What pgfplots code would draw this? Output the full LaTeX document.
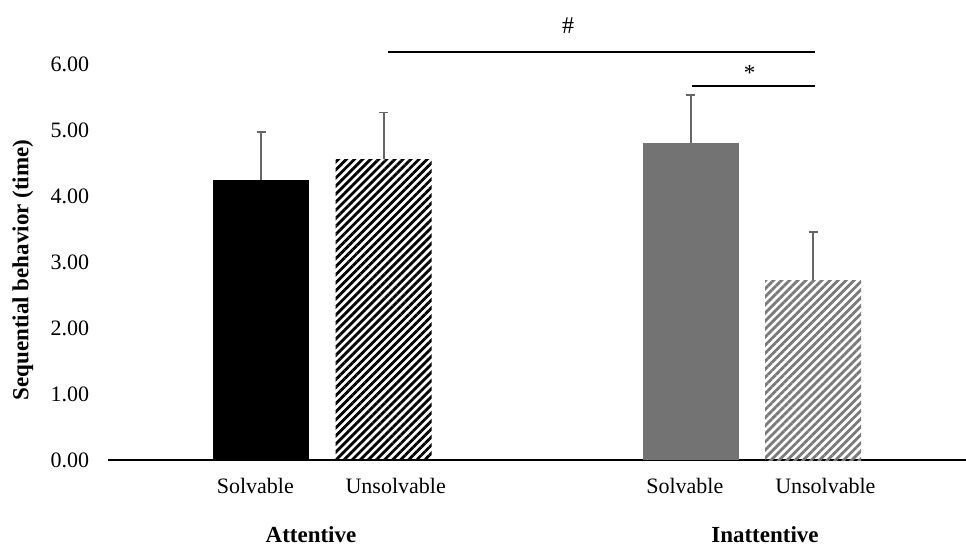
\documentclass[border=0pt]{standalone}
\usepackage{pgfplots}
\pgfplotsset{compat=1.18}
\usepackage{fontspec}
\setmainfont{Liberation Serif}
\usetikzlibrary{patterns.meta}
\definecolor{barGray}{HTML}{737373}
\definecolor{stripeGray}{HTML}{7A7A7A}
\definecolor{errGray}{HTML}{666666}
\begin{document}
\begin{tikzpicture}
\useasboundingbox (-108pt,-86pt) rectangle (858pt,460pt);
\begin{axis}[
  at={(0,0)}, anchor=south west,
  scale only axis, width=858pt, height=396pt,
  xmin=-0.2525, xmax=6.757,
  ymin=0, ymax=6,
  clip=false,
  axis x line*=bottom, axis y line*=left,
  axis line style={-},
  x axis line style={line width=1.6pt, black},
  y axis line style={draw=none},
  major tick length=0pt,
  ytick={0,1,2,3,4,5,6},
  yticklabel style={anchor=east, inner sep=0pt, xshift=-18.7pt, font=\fontsize{22}{26}\selectfont},
  /pgf/number format/.cd, fixed, fixed zerofill, precision=2, assume math mode=true,
  /pgfplots/.cd,
  xtick={0.951,2.098,4.46,5.608},
  xticklabels={Solvable,Unsolvable,Solvable,Unsolvable},
  xticklabel style={anchor=base, inner sep=0pt, yshift=-33pt, font=\fontsize{22}{26}\selectfont},
  ybar, bar width=96pt, bar shift=0pt,
  error bars/y dir=plus, error bars/y explicit,
  error bars/error bar style={errGray, line width=1.8pt},
  error bars/error mark options={rotate=90, errGray, mark size=4.5pt, line width=1.8pt},
]
\addplot[fill=black, draw=none] coordinates {(1,4.24) +- (0,0.73)};
\addplot[draw=none, pattern={Lines[angle=45,distance=5.7pt,line width=2.8pt]}, pattern color=black] coordinates {(2,4.556) +- (0,0.71)};
\addplot[fill=barGray, draw=none] coordinates {(4.509,4.81) +- (0,0.72)};
\addplot[draw=none, pattern={Lines[angle=45,distance=5.7pt,line width=2.8pt]}, pattern color=stripeGray] coordinates {(5.509,2.72) +- (0,0.74)};

\draw[line width=1.5pt, black] (axis cs:2.035,6.18) -- (axis cs:5.524,6.18);
\draw[line width=1.5pt, black] (axis cs:4.518,5.667) -- (axis cs:5.524,5.667);
\node[font=\fontsize{24}{28}\selectfont] at (axis cs:3.506,6.585) {\#};
\node[font=\fontsize{23}{27}\selectfont] at (axis cs:4.99,5.86) {*};

\node[rotate=90, font=\fontsize{23}{27}\selectfont\bfseries] at (rel axis cs:-0.0991,0.4798) {Sequential behavior (time)};
\node[anchor=base, inner sep=0pt, font=\fontsize{23}{27}\selectfont\bfseries] at (rel axis cs:0.2366,-0.2088) {Attentive};
\node[anchor=base, inner sep=0pt, font=\fontsize{23}{27}\selectfont\bfseries] at (rel axis cs:0.7657,-0.2088) {Inattentive};
\end{axis}
\end{tikzpicture}
\end{document}
